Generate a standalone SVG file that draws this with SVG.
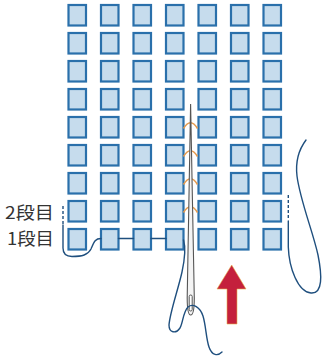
<svg xmlns="http://www.w3.org/2000/svg" width="324" height="361" viewBox="0 0 324 361">
<style>
.sq{fill:#c6dced;stroke:#2a70ab;stroke-width:2.2}
.th{fill:none;stroke:#1f4f7e;stroke-width:1.4;stroke-linecap:round}
.dash{fill:none;stroke:#1f4f7e;stroke-width:1.4;stroke-dasharray:3 2}
.arc{fill:none;stroke:#e49a4e;stroke-width:1.5}
.lbl{font-family:"Noto Sans CJK JP","Noto Sans",sans-serif;font-size:17.5px;fill:#333}
</style>
<defs>
<rect id="s" class="sq" width="17.5" height="20.5"/>
</defs>
<rect width="324" height="361" fill="#fff"/>
<g id="grid">
<g id="r1"><use href="#s" x="68.5" y="5"/><use href="#s" x="101" y="5"/><use href="#s" x="133.5" y="5"/><use href="#s" x="166" y="5"/><use href="#s" x="198.5" y="5"/><use href="#s" x="231" y="5"/><use href="#s" x="263.5" y="5"/></g>
<g id="r2"><use href="#s" x="68.5" y="33"/><use href="#s" x="101" y="33"/><use href="#s" x="133.5" y="33"/><use href="#s" x="166" y="33"/><use href="#s" x="198.5" y="33"/><use href="#s" x="231" y="33"/><use href="#s" x="263.5" y="33"/></g>
<g id="r3"><use href="#s" x="68.5" y="61"/><use href="#s" x="101" y="61"/><use href="#s" x="133.5" y="61"/><use href="#s" x="166" y="61"/><use href="#s" x="198.5" y="61"/><use href="#s" x="231" y="61"/><use href="#s" x="263.5" y="61"/></g>
<g id="r4"><use href="#s" x="68.5" y="89"/><use href="#s" x="101" y="89"/><use href="#s" x="133.5" y="89"/><use href="#s" x="166" y="89"/><use href="#s" x="198.5" y="89"/><use href="#s" x="231" y="89"/><use href="#s" x="263.5" y="89"/></g>
<g id="r5"><use href="#s" x="68.5" y="117"/><use href="#s" x="101" y="117"/><use href="#s" x="133.5" y="117"/><use href="#s" x="166" y="117"/><use href="#s" x="198.5" y="117"/><use href="#s" x="231" y="117"/><use href="#s" x="263.5" y="117"/></g>
<g id="r6"><use href="#s" x="68.5" y="145"/><use href="#s" x="101" y="145"/><use href="#s" x="133.5" y="145"/><use href="#s" x="166" y="145"/><use href="#s" x="198.5" y="145"/><use href="#s" x="231" y="145"/><use href="#s" x="263.5" y="145"/></g>
<g id="r7"><use href="#s" x="68.5" y="173"/><use href="#s" x="101" y="173"/><use href="#s" x="133.5" y="173"/><use href="#s" x="166" y="173"/><use href="#s" x="198.5" y="173"/><use href="#s" x="231" y="173"/><use href="#s" x="263.5" y="173"/></g>
<g id="r8"><use href="#s" x="68.5" y="201"/><use href="#s" x="101" y="201"/><use href="#s" x="133.5" y="201"/><use href="#s" x="166" y="201"/><use href="#s" x="198.5" y="201"/><use href="#s" x="231" y="201"/><use href="#s" x="263.5" y="201"/></g>
<g id="r9"><use href="#s" x="68.5" y="229"/><use href="#s" x="101" y="229"/><use href="#s" x="133.5" y="229"/><use href="#s" x="166" y="229"/><use href="#s" x="198.5" y="229"/><use href="#s" x="231" y="229"/><use href="#s" x="263.5" y="229"/></g>
</g>
<g id="labels">
<text class="lbl" x="5" y="219" textLength="49" lengthAdjust="spacingAndGlyphs">2段目</text>
<text class="lbl" x="7" y="245" textLength="47" lengthAdjust="spacingAndGlyphs">1段目</text>
</g>
<g id="connectors">
<path class="arc" d="M183.5,128.5 Q190.5,117 197.5,128.5"/>
<path class="arc" d="M183.5,156.5 Q190.5,145 197.5,156.5"/>
<path class="arc" d="M183.5,184.5 Q190.5,173 197.5,184.5"/>
<path class="arc" d="M183.5,212.5 Q190.5,201 197.5,212.5"/>
<path class="dash" d="M63,206 V224"/>
<path class="th" d="M63,225 V248 Q63,256.5 72,256.5 C82,256.5 88,255 91,249 C94,242 95,238.5 101,238.5"/>
<path class="th" d="M118.5,238.5 H133.5 M151,238.5 H166"/>
<path class="dash" d="M288.3,195 V220"/>
<path class="th" d="M288.3,221 L288.3,247 C289,268 298,292 311,293 C323,294 322,275 318,255 C313,232 300,200 297,176 C295,159 300,148 306,140"/>
</g>
<g id="needle">
<path d="M190.6,104 L187.2,298 Q187.2,315 190.7,315 Q194.3,315 194.3,298 Z" fill="#f4f4f4" stroke="#555" stroke-width="1.1"/>
<rect x="189.2" y="295" width="3" height="16" rx="1.5" fill="#fff" stroke="#555" stroke-width="1"/>
</g>
<g id="thread">
<path class="th" d="M183.5,240 C186,248 185,258 182,272 C178,290 170,312 169,325 C169,333 176,334 180,328 C183,323 183,312 188,307 C193,303 200,307 203,316 C206,326 206,338 209,347 C212,356 218,356 222,352"/>
</g>
<g id="arrow">
<path d="M231.7,265 L246,289 L237,289 L237,324 L227,324 L227,289 L217,289 Z" fill="#c4203c" stroke="#e8b04a" stroke-width="0.6"/>
</g>
</svg>
